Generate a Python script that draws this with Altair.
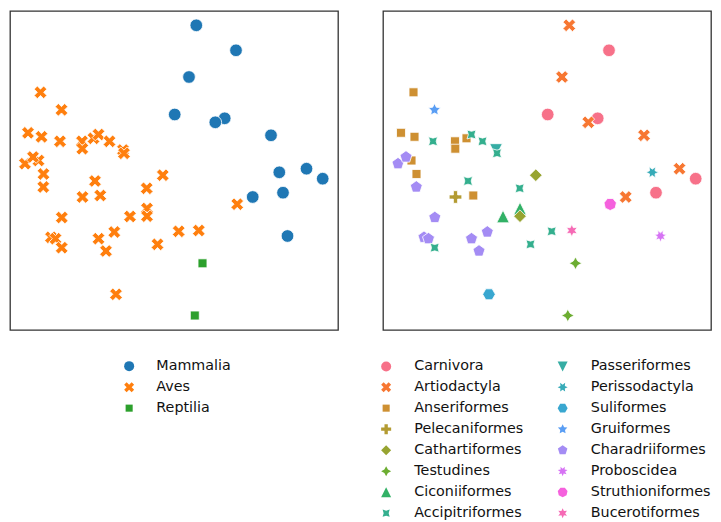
import math
import altair as alt
import pandas as pd

# ---------------- data ----------------
x_vals = [186.3, 226.0, 179.0, 164.7, 214.7, 205.3, 261.0, 242.7, 269.3, 296.5, 312.7, 273.0, 277.5,
          30.5, 51.5, 18.0, 31.5, 50.0, 72.0, 72.3, 83.5, 88.5, 99.5, 113.0, 114.0,
          15.0, 28.5, 23.0, 33.5, 33.3, 85.0, 72.5, 90.3, 136.7, 152.8, 51.8, 120.0, 137.0, 137.0,
          41.0, 45.5, 51.7, 88.5, 104.3, 96.0, 147.5, 168.7, 188.8, 106.0, 227.2,
          192.5, 184.8]
y_vals = [304.7, 279.7, 253.0, 215.5, 211.7, 207.7, 194.7, 133.0, 157.7, 161.3, 151.3, 137.3, 94.0,
          237.7, 220.2, 197.2, 193.2, 188.7, 188.7, 181.3, 191.7, 195.5, 188.7, 180.0, 176.7,
          166.3, 169.5, 173.0, 156.0, 143.0, 149.0, 133.0, 134.5, 141.7, 154.8, 112.5, 113.5, 121.5, 113.8,
          92.7, 91.3, 82.3, 91.3, 98.0, 79.0, 85.7, 98.7, 99.5, 35.7, 125.8,
          66.7, 14.5]
classes = ["Mammalia"] * 13 + ["Aves"] * 37 + ["Reptilia"] * 2
orders = ["Artiodactyla", "Carnivora", "Artiodactyla", "Carnivora", "Carnivora", "Artiodactyla",
          "Artiodactyla", "Artiodactyla", "Perissodactyla", "Artiodactyla", "Carnivora", "Carnivora",
          "Proboscidea",
          "Anseriformes", "Gruiformes", "Anseriformes", "Anseriformes", "Accipitriformes",
          "Anseriformes", "Anseriformes", "Anseriformes", "Accipitriformes", "Accipitriformes",
          "Passeriformes", "Accipitriformes",
          "Charadriiformes", "Anseriformes", "Charadriiformes", "Anseriformes", "Charadriiformes",
          "Accipitriformes", "Pelecaniformes", "Anseriformes", "Accipitriformes", "Cathartiformes",
          "Charadriiformes", "Ciconiiformes", "Ciconiiformes", "Cathartiformes",
          "Charadriiformes", "Charadriiformes", "Accipitriformes", "Charadriiformes",
          "Charadriiformes", "Charadriiformes", "Accipitriformes", "Accipitriformes",
          "Bucerotiformes", "Suliformes", "Struthioniformes",
          "Testudines", "Testudines"]

class_names = ["Mammalia", "Aves", "Reptilia"]
order_names = ["Carnivora", "Artiodactyla", "Anseriformes", "Pelecaniformes", "Cathartiformes",
               "Testudines", "Ciconiiformes", "Accipitriformes", "Passeriformes", "Perissodactyla",
               "Suliformes", "Gruiformes", "Charadriiformes", "Proboscidea", "Struthioniformes",
               "Bucerotiformes"]

df = pd.DataFrame({"x": x_vals, "y": y_vals, "cls": classes, "order": orders})

# ---------------- colours: seaborn husl palette ----------------
M = [[3.2406, -1.5372, -0.4986], [-0.9689, 1.8758, 0.0415], [0.0557, -0.2040, 1.0570]]
refU, refV, lab_e, lab_k = 0.19784, 0.46834, 0.008856, 903.3


def max_chroma(L, H):
    hrad = math.radians(H)
    sinH, cosH = math.sin(hrad), math.cos(hrad)
    sub1 = (L + 16) ** 3 / 1560896.0
    sub2 = sub1 if sub1 > 0.008856 else L / 903.3
    result = float("inf")
    for m1, m2, m3 in M:
        top = (0.99915 * m1 + 1.05122 * m2 + 1.14460 * m3) * sub2
        rbottom = 0.86330 * m3 - 0.17266 * m2
        lbottom = 0.12949 * m3 - 0.38848 * m1
        bottom = (rbottom * sinH + lbottom * cosH) * sub2
        for t in (0.0, 1.0):
            C = L * (top - 1.05122 * t) / (bottom + 0.17266 * sinH * t)
            if 0.0 < C < result:
                result = C
    return result


def husl_to_hex(H, S, L):
    C = max_chroma(L, H) / 100.0 * S
    U, V = math.cos(math.radians(H)) * C, math.sin(math.radians(H)) * C
    t = (L + 16.0) / 116.0
    varY = t ** 3 if t ** 3 > lab_e else (116.0 * t - 16.0) / lab_k
    varU = U / (13.0 * L) + refU
    varV = V / (13.0 * L) + refV
    Y = varY
    X = -(9.0 * Y * varU) / ((varU - 4.0) * varV - varU * varV)
    Z = (9.0 * Y - 15.0 * varV * Y - varV * X) / (3.0 * varV)
    out = []
    for r in M:
        c = r[0] * X + r[1] * Y + r[2] * Z
        c = 12.92 * c if c <= 0.0031308 else 1.055 * c ** (1 / 2.4) - 0.055
        c = min(max(c, 0.0), 1.0)
        out.append(int(round(c * 255)))
    return "#%02x%02x%02x" % tuple(out)


n = len(order_names)
order_colors = [husl_to_hex(((i / n + 0.01) % 1) * 359, 0.9 * 99, 0.65 * 99) for i in range(n)]
class_colors = ["#1f77b4", "#ff7f0e", "#2ca02c"]


# ---------------- marker shapes (matplotlib / seaborn style) ----------------
def poly(pts):
    return "M" + "L".join("%.4f,%.4f" % (px, py) for px, py in pts) + "Z"


def regular(nv, rot, star=False):
    m = 2 * nv if star else nv
    pts = []
    for k in range(m):
        a = math.radians(90 + k * 360.0 / m + rot)
        r = 1.0 if (not star or k % 2 == 0) else 0.5
        pts.append((r * math.cos(a), -r * math.sin(a)))
    return poly(pts)


X_SHAPE = poly([(px / 2, py / 2) for px, py in [(-1, -2), (0, -1), (1, -2), (2, -1), (1, 0), (2, 1),
                                                (1, 2), (0, 1), (-1, 2), (-2, 1), (-1, 0), (-2, -1)]])
P_SHAPE = poly([(px / 3, py / 3) for px, py in [(-1, -3), (1, -3), (1, -1), (3, -1), (3, 1), (1, 1),
                                                (1, 3), (-1, 3), (-1, 1), (-3, 1), (-3, -1), (-1, -1)]])
TRI_UP = poly([(0, -1), (-1, 1), (1, 1)])
TRI_DOWN = poly([(0, 1), (-1, -1), (1, -1)])

marker_list = ["circle", X_SHAPE, regular(4, 45), P_SHAPE, regular(4, 0), regular(4, 0, True),
               TRI_UP, regular(4, 45, True), TRI_DOWN, regular(6, 30, True), regular(6, 30),
               regular(5, 0, True), regular(5, 0), regular(7, 360 / 7 / 2, True),
               regular(7, 360 / 7 / 2), regular(6, 0, True)]

class_shapes = marker_list[:3]
order_shapes = marker_list[:n]

W, H = 328, 319
xs = alt.Scale(domain=[0, 328], nice=False, zero=False)
ys = alt.Scale(domain=[0, 319], nice=False, zero=False)

leg_common = dict(orient="none", title=None, padding=0, labelFont="DejaVu Sans", labelFontSize=14.3,
                  labelColor="#111111", symbolSize=100, symbolStrokeWidth=0,
                  rowPadding=6.0, labelLimit=300, legendY=348)

left_leg = alt.Legend(legendX=112, columns=1, labelOffset=20, **leg_common)
right_leg = alt.Legend(legendX=-4, columns=2, columnPadding=31.5, labelOffset=21, **leg_common)

point_kw = dict(filled=True, size=160, stroke="white", strokeWidth=0.8, opacity=1)

left = alt.Chart(df).mark_point(**point_kw).encode(
    x=alt.X("x:Q", scale=xs, axis=None),
    y=alt.Y("y:Q", scale=ys, axis=None),
    color=alt.Color("cls:N", scale=alt.Scale(domain=class_names, range=class_colors), legend=left_leg),
    shape=alt.Shape("cls:N", scale=alt.Scale(domain=class_names, range=class_shapes), legend=left_leg),
).properties(width=W, height=H)

right = alt.Chart(df).mark_point(**point_kw).encode(
    x=alt.X("x:Q", scale=xs, axis=None),
    y=alt.Y("y:Q", scale=ys, axis=None),
    color=alt.Color("order:N", scale=alt.Scale(domain=order_names, range=order_colors), legend=right_leg),
    shape=alt.Shape("order:N", scale=alt.Scale(domain=order_names, range=order_shapes), legend=right_leg),
).properties(width=W, height=H)

chart = alt.hconcat(left, right, spacing=45, bounds="flush").resolve_scale(
    color="independent", shape="independent"
).resolve_legend(
    color="independent", shape="independent"
).properties(
    padding={"left": 1, "top": 2, "right": 0, "bottom": 0}
).configure_view(
    stroke="#333333", strokeWidth=1.3
)

chart.save("out.html", embed_options={"renderer": "svg", "actions": False})
